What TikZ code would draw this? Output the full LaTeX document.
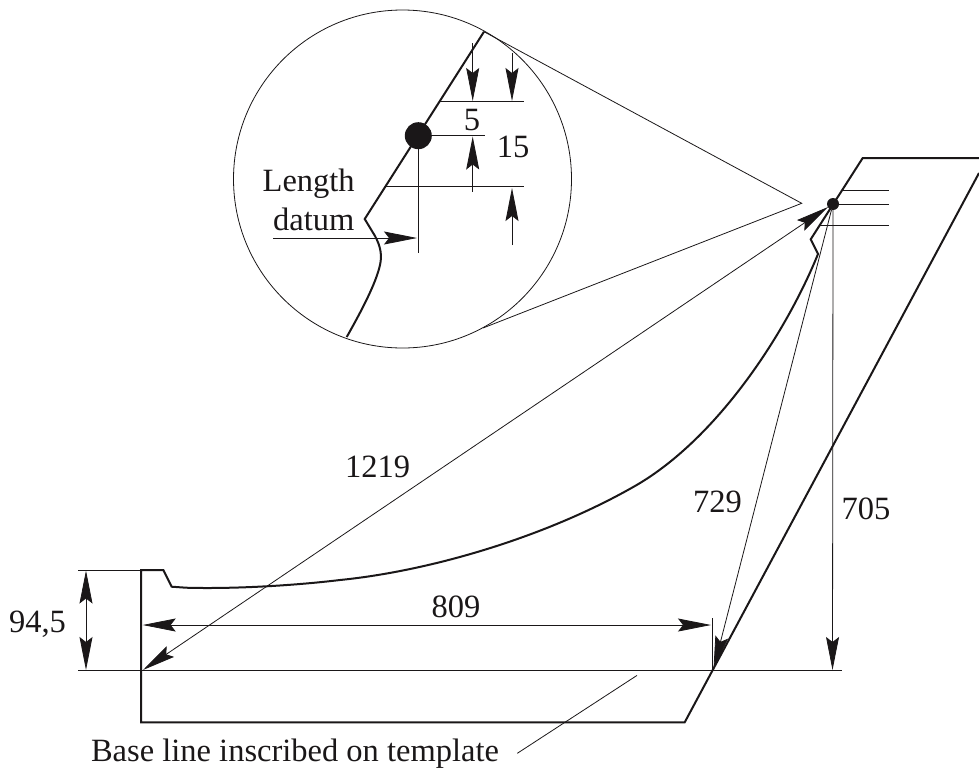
\documentclass[tikz,border=0pt]{standalone}
\usepackage{fontspec}
\setmainfont{Liberation Serif}
\usetikzlibrary{arrows.meta}
\definecolor{ink}{HTML}{1A1718}
\tikzset{
  thin line/.style={line width=0.8pt,ink},
  thick line/.style={line width=2pt,ink,line join=miter},
  dim/.style={thin line,-{Stealth[length=33pt,width=13pt,inset=5pt]}},
  dimboth/.style={thin line,{Stealth[length=33pt,width=13pt,inset=5pt]}-{Stealth[length=33pt,width=13pt,inset=5pt]}},
  lab/.style={font=\fontsize{32.5}{35}\selectfont,text=ink,inner sep=0pt,anchor=base},
  blob/.style={circle,fill=ink,inner sep=0pt}
}
\begin{document}
\begin{tikzpicture}[x=1pt,y=-1pt]
\useasboundingbox (0,0) rectangle (979,769);
% magnifier
\coordinate (C) at (402.5,179);
\coordinate (apex) at (801.7,203.3);
\coordinate (tanA) at (484,31.7);
\coordinate (tanB) at (483,328);
\draw[thin line] (C) circle (169);
\draw[thin line] (tanA) -- (apex) -- (tanB);
\node[blob,minimum size=27pt] (bigdot) at (418.3,135.7) {};
\coordinate (profA) at (364.7,219);
\draw[thick line] (tanA) -- (profA) -- (375,236) .. controls (381,247) and (382,256) .. (380,265) .. controls (376,283) and (362,310) .. (346.7,337);
\coordinate (u1) at (440,101); \coordinate (u2) at (524,101);
\coordinate (l1) at (386,186); \coordinate (l2) at (524,186);
\coordinate (m2) at (485,135.7);
\coordinate (vend) at (418.3,252.7);
\draw[thin line] (u1) -- (u2);
\draw[thin line] (l1) -- (l2);
\draw[thin line] (bigdot) -- (m2);
\draw[thin line] (bigdot) -- (vend);
\coordinate (a1s) at (472.7,43.3); \coordinate (a1e) at (472.7,101);
\coordinate (a2s) at (512,53); \coordinate (a2e) at (512,101);
\coordinate (a3s) at (472.7,191.7); \coordinate (a3e) at (472.7,136.5);
\coordinate (a4s) at (512,245); \coordinate (a4e) at (512,188);
\coordinate (a5s) at (273.3,238); \coordinate (a5e) at (417,238);
\draw[dim] (a1s) -- (a1e);
\draw[dim] (a2s) -- (a2e);
\draw[dim] (a3s) -- (a3e);
\draw[dim] (a4s) -- (a4e);
\draw[dim] (a5s) -- (a5e);
\node[lab] (t5) at (472,130) {5};
\node[lab] (t15) at (513,157) {15};
\node[lab] (tlen) at (308.7,191.7) {Length};
\node[lab] (tdat) at (313.8,230) {datum};
% template
\coordinate (t1) at (862.7,158);
\coordinate (t2) at (979,158);
\coordinate (t3) at (810.7,239.3);
\coordinate (t4) at (818,254);
\coordinate (b0) at (186,587.7);
\coordinate (b1) at (979,173);
\coordinate (b2) at (684.7,722.3);
\coordinate (b3) at (141,722.3);
\coordinate (b4) at (141,570);
\coordinate (b5) at (163.3,570);
\coordinate (b6) at (171.7,586.7);
\draw[thick line] (t2) -- (t1) -- (t3) -- (t4)
  .. controls (785,335) and (717,438) .. (636.7,485)
  .. controls (546.7,537) and (430,571) .. (340,580)
  .. controls (290,586) and (230,589) .. (b0)
  -- (b6) -- (b5) -- (b4) -- (b3) -- (b2) -- (b1);
\node[blob,minimum size=12pt] (dot) at (833,204) {};
\coordinate (r1a) at (843,190.3); \coordinate (r1b) at (889,190.3);
\coordinate (r2b) at (889,204);
\coordinate (r3a) at (820,225.7); \coordinate (r3b) at (889,225.7);
\draw[thin line] (r1a) -- (r1b);
\draw[thin line] (dot) -- (r2b);
\draw[thin line] (r3a) -- (r3b);
% base line and dimensions
\coordinate (base1) at (78,670.3); \coordinate (base2) at (841.7,670.3);
\draw[thin line] (base1) -- (base2);
\coordinate (top1) at (78,570);
\draw[thin line] (top1) -- (b4);
\draw[dimboth] (86,570.5) -- (86,670);
\coordinate (e1) at (712.5,618); \coordinate (e2) at (712.5,670.3);
\draw[thin line] (e1) -- (e2);
\draw[dimboth] (142.7,625) -- (711,625);
\coordinate (tip1219) at (143,670);
\coordinate (tip729) at (713.5,669);
\coordinate (tip705) at (832.5,670);
\coordinate (tipd) at (828,207);
\draw[dimboth] (tip1219) -- (tipd);
\draw[dim] (dot) -- (tip729);
\draw[dim] (dot.south) -- (tip705);
\coordinate (lead1) at (517.3,753.3); \coordinate (lead2) at (637,675.4);
\draw[thin line] (lead1) -- (lead2);
\node[lab] (t1219) at (377.5,477) {1219};
\node[lab] (t729) at (717.5,512) {729};
\node[lab] (t705) at (866,519) {705};
\node[lab] (t809) at (456,617) {809};
\node[lab] (t945) at (37.5,632) {94,5};
\node[lab] (tbase) at (295,761.7) {Base line inscribed on template};
\end{tikzpicture}
\end{document}
